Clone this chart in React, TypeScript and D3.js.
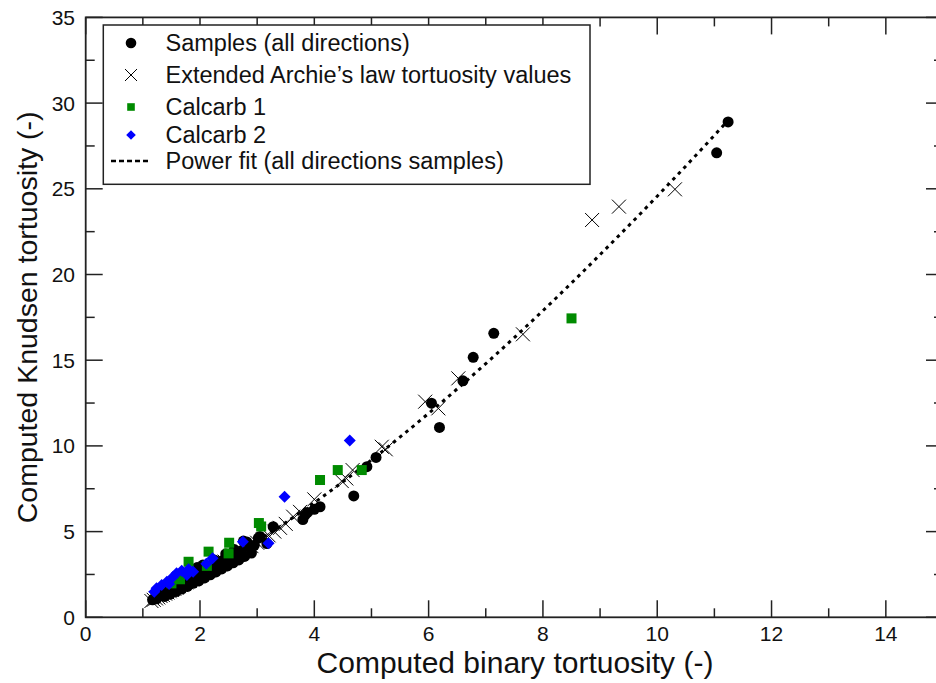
import React from "react";
import * as d3 from "d3";

// ---- data ----
const samplesX = [1.17,1.21,1.24,1.27,1.30,1.33,1.36,1.40,1.43,1.46,1.49,1.52,1.55,1.58,1.62,1.65,1.68,1.72,1.75,1.79,1.82,1.86,1.90,1.93,1.97,2.00,2.04,2.08,2.12,2.16,2.20,2.25,2.30,2.35,2.40,2.45,2.50,2.55,2.60,2.66,2.72,2.76,2.82,2.88,2.95,3.02,3.05,3.17,3.28,3.80,3.84,3.88,4.00,4.10,4.69,4.92,5.08,6.05,6.19,6.60,6.78,7.14,11.04,11.24,
  1.38,1.48,1.58,1.68,1.78,1.88,1.98,2.08,2.18,2.28,2.38,2.48,2.58,2.68,2.78,2.90,1.95,2.05,2.25,2.45,2.60];
const samplesY = [1.02,1.12,1.08,1.22,1.30,1.28,1.42,1.50,1.58,1.55,1.70,1.78,1.74,1.88,1.95,2.05,1.98,2.12,2.22,2.18,2.35,2.42,2.38,2.55,2.62,2.72,2.68,2.85,2.92,2.88,3.02,3.10,3.18,3.25,3.32,3.40,3.48,3.58,3.66,3.75,3.88,4.45,4.40,4.05,4.20,4.62,4.72,4.30,5.29,5.70,5.97,6.12,6.30,6.45,7.08,8.79,9.33,12.49,11.08,13.80,15.17,16.57,27.10,28.90,
  1.22,1.35,1.50,1.65,1.80,1.98,2.12,2.30,2.48,2.65,2.82,3.00,3.18,3.35,3.55,3.75,2.90,3.05,3.35,3.70,3.95];

const archieX = [1.15,1.19,1.23,1.27,1.31,1.35,1.39,1.43,1.47,1.51,1.55,1.59,1.63,1.67,1.71,1.76,1.81,1.86,1.91,1.96,2.02,2.08,2.14,2.21,2.28,2.35,2.43,2.51,2.60,2.70,2.80,2.90,3.00,3.10,3.20,3.30,3.40,3.50,3.63,3.75,4.00,4.48,4.56,4.67,5.18,5.25,5.94,6.17,6.52,7.65,8.86,9.33,10.31];
const archieY = [0.95,1.02,1.10,1.16,1.24,1.30,1.38,1.45,1.52,1.60,1.66,1.74,1.82,1.88,1.96,2.04,2.12,2.22,2.30,2.40,2.50,2.60,2.72,2.84,2.98,3.10,3.25,3.40,3.56,3.76,3.95,4.15,4.35,4.55,4.78,5.00,5.22,5.45,5.87,6.15,6.88,7.95,8.10,8.59,9.95,9.80,12.58,12.19,13.94,16.51,23.18,23.96,24.97];

const calcarb1X = [1.50,1.65,1.80,2.12,2.15,2.50,2.51,3.03,3.07,4.10,4.41,4.83,8.50];
const calcarb1Y = [1.98,2.22,3.24,3.00,3.83,3.73,4.35,5.50,5.30,8.01,8.59,8.59,17.44];

const calcarb2X = [1.20,1.24,1.33,1.42,1.46,1.53,1.59,1.68,1.77,1.80,1.88,2.11,2.22,2.75,3.20,3.48,4.62];
const calcarb2Y = [1.49,1.69,1.88,2.08,1.95,2.37,2.57,2.72,2.47,2.80,2.66,3.13,3.44,4.41,4.32,7.04,10.31];

const fitX = [1.15,1.5,2,2.5,3,4,5,6,7,8,9,10,11,11.2];
const fitY = [1.14,1.66,2.50,3.43,4.44,6.69,9.18,11.90,14.80,17.89,21.16,24.57,28.12,28.85];

const xTickLabels = [0,2,4,6,8,10,12,14];
const yTickLabels = [0,5,10,15,20,25,30,35];
const xMinorTicks = [1,3,5,7,9,11,13];
const yMinorTicks = [2.5,7.5,12.5,17.5,22.5,27.5,32.5];

const legendLabels = [
  "Samples (all directions)",
  "Extended Archie\u2019s law tortuosity values",
  "Calcarb 1",
  "Calcarb 2",
  "Power fit (all directions samples)",
];

const W = 936, H = 683;
const GREEN = "#008b00";
const BLUE = "#0000ff";
const AXIS = "#222";
const FONT = "'Liberation Sans', Arial, Helvetica, sans-serif";

export default function App() {
  const x = d3.scaleLinear().domain([0, 15]).range([85.7, 943]);
  const y = d3.scaleLinear().domain([0, 35]).range([617.3, 17.4]);
  const x0 = x(0), x1 = x(15), y0 = y(0), y1 = y(35);
  const MAJ = 17, MIN = 9;

  const fitLine = d3.line<number>()
    .x((_, i) => x(fitX[i]))
    .y((d) => y(d))
    .curve(d3.curveMonotoneX)(fitY) || "";

  const xPath = (cx: number, cy: number, h: number) =>
    `M${cx - h},${cy - h}L${cx + h},${cy + h}M${cx - h},${cy + h}L${cx + h},${cy - h}`;
  const diamond = (cx: number, cy: number, h: number) =>
    `M${cx},${cy - h}L${cx + h},${cy}L${cx},${cy + h}L${cx - h},${cy}Z`;

  const legendRows = [43, 75, 107, 135, 161];
  const lx = 131;

  return (
    <svg width={W} height={H} viewBox={`0 0 ${W} ${H}`}
      style={{ position: "absolute", left: 0, top: 0, background: "#fff" }}
      fontFamily={FONT}>
      <rect x={0} y={0} width={W} height={H} fill="#fff" />
      {/* ticks */}
      <g stroke={AXIS} strokeWidth={1.5}>
        {xTickLabels.map((t) => (
          <g key={"xt" + t}>
            <line x1={x(t)} x2={x(t)} y1={y0} y2={y0 - MAJ} />
            <line x1={x(t)} x2={x(t)} y1={y1} y2={y1 + MAJ} />
          </g>
        ))}
        {xMinorTicks.map((t) => (
          <g key={"xm" + t}>
            <line x1={x(t)} x2={x(t)} y1={y0} y2={y0 - MIN} />
            <line x1={x(t)} x2={x(t)} y1={y1} y2={y1 + MIN} />
          </g>
        ))}
        {yTickLabels.map((t) => (
          <g key={"yt" + t}>
            <line x1={x0} x2={x0 + MAJ} y1={y(t)} y2={y(t)} />
            <line x1={x1} x2={x1 - MAJ} y1={y(t)} y2={y(t)} />
          </g>
        ))}
        {yMinorTicks.map((t) => (
          <g key={"ym" + t}>
            <line x1={x0} x2={x0 + MIN} y1={y(t)} y2={y(t)} />
            <line x1={x1} x2={x1 - MIN} y1={y(t)} y2={y(t)} />
          </g>
        ))}
      </g>
      <rect x={x0} y={y1} width={x1 - x0} height={y0 - y1} fill="none" stroke={AXIS} strokeWidth={1.8} />

      {/* data */}
      <g fill="#000">
        {samplesX.map((v, i) => (
          <circle key={"s" + i} cx={x(v)} cy={y(samplesY[i])} r={5.5} />
        ))}
      </g>
      <g stroke="#000" strokeWidth={1} fill="none">
        {archieX.map((v, i) => (
          <path key={"a" + i} d={xPath(x(v), y(archieY[i]), 7)} />
        ))}
      </g>
      <path d={fitLine} fill="none" stroke="#000" strokeWidth={3} strokeDasharray="3.5,4.5" />
      <g fill={GREEN}>
        {calcarb1X.map((v, i) => (
          <rect key={"c1" + i} x={x(v) - 5} y={y(calcarb1Y[i]) - 5} width={10} height={10} />
        ))}
      </g>
      <g fill={BLUE}>
        {calcarb2X.map((v, i) => (
          <path key={"c2" + i} d={diamond(x(v), y(calcarb2Y[i]), 6)} />
        ))}
      </g>

      {/* legend */}
      <rect x={103.3} y={25} width={486.7} height={159.3} fill="#fff" stroke={AXIS} strokeWidth={1.5} />
      <circle cx={lx} cy={legendRows[0]} r={5.3} fill="#000" />
      <path d={xPath(lx, legendRows[1], 6)} stroke="#000" strokeWidth={1} />
      <rect x={lx - 3.8} y={legendRows[2] - 3.8} width={7.6} height={7.6} fill={GREEN} />
      <path d={diamond(lx, legendRows[3], 4.8)} fill={BLUE} />
      <line x1={111} x2={151} y1={legendRows[4]} y2={legendRows[4]} stroke="#000" strokeWidth={2.5} strokeDasharray="5,3" />
      <g fontSize={23.5} fill="#111">
        {legendLabels.map((l, i) => (
          <text key={l} x={165.5} y={legendRows[i]} dy="0.35em">{l}</text>
        ))}
      </g>

      {/* tick labels */}
      <g fontSize={21} fill="#111">
        {xTickLabels.map((t) => (
          <text key={"xl" + t} x={x(t)} y={641} textAnchor="middle">{t}</text>
        ))}
        {yTickLabels.map((t) => (
          <text key={"yl" + t} x={75} y={y(t)} dy="0.36em" textAnchor="end">{t}</text>
        ))}
      </g>

      {/* axis titles */}
      <text x={515} y={673} textAnchor="middle" fontSize={30} fill="#111">
        Computed binary tortuosity (-)
      </text>
      <text transform={`translate(37,${(y0 + y1) / 2}) rotate(-90)`} textAnchor="middle" fontSize={28.5} fill="#111">
        Computed Knudsen tortuosity (-)
      </text>
    </svg>
  );
}
